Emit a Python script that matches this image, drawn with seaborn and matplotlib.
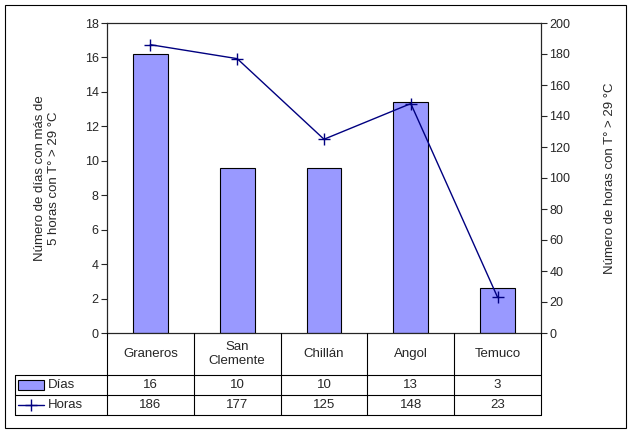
import matplotlib
matplotlib.use("Agg")
import matplotlib.pyplot as plt
import seaborn as sns
import pandas as pd
from matplotlib.lines import Line2D
from matplotlib.patches import Rectangle

ciudades = ["Graneros", "San\nClemente", "Chillán", "Angol", "Temuco"]
dias = [16.2, 9.6, 9.6, 13.4, 2.6]
dias_tabla = ["16", "10", "10", "13", "3"]
horas = [186, 177, 125, 148, 23]

sns.set_style("white")
plt.rcParams["font.family"] = ["Liberation Sans", "DejaVu Sans"]
plt.rcParams["font.size"] = 9

W, H = 631, 433
fig = plt.figure(figsize=(W / 100, H / 100), dpi=100)
L, R, T, B = 107, 541, 23, 333
ax = fig.add_axes([L / W, 1 - B / H, (R - L) / W, (B - T) / H])

df = pd.DataFrame({"c": ciudades, "d": dias})
sns.barplot(data=df, x="c", y="d", color="#9999FF", edgecolor="black",
            linewidth=0.8, width=0.4, saturation=1, ax=ax)
ax.set_ylim(0, 18)
ax.set_yticks(range(0, 19, 2))
ax.set_xlim(-0.5, 4.5)
ax.set_xticks([])
ax.set_xlabel("")
ax.set_ylabel("Número de días con más de\n5 horas con T° > 29 °C", fontsize=9.5, labelpad=18)
ax.tick_params(axis="y", direction="out", length=4, left=True, pad=2)
for s in ax.spines.values():
    s.set_color("black"); s.set_linewidth(0.8)

ax2 = ax.twinx()
ax2.plot(range(5), horas, color="#000080", marker="+", markersize=9, linewidth=1)
ax2.set_ylim(0, 200)
ax2.set_yticks(range(0, 201, 20))
ax2.set_ylabel("Número de horas con T° > 29 °C", fontsize=9.5, labelpad=24)
ax2.tick_params(axis="y", direction="out", length=4, right=True, pad=2)

# data table
def fx(x): return x / W
def fy(y): return 1 - y / H
cw = (R - L) / 5
kw = dict(color="black", linewidth=0.8, transform=fig.transFigure)
for y in [375, 395, 415]:
    fig.add_artist(Line2D([fx(15), fx(R)], [fy(y), fy(y)], **kw))
for k in range(6):
    fig.add_artist(Line2D([fx(L + k * cw)] * 2, [fy(B), fy(415)], **kw))
fig.add_artist(Line2D([fx(15)] * 2, [fy(375), fy(415)], **kw))
for i in range(5):
    cx = fx(L + (i + 0.5) * cw)
    fig.text(cx, fy(354), ciudades[i], ha="center", va="center", fontsize=9.5)
    fig.text(cx, fy(385), dias_tabla[i], ha="center", va="center", fontsize=9.5)
    fig.text(cx, fy(405), str(horas[i]), ha="center", va="center", fontsize=9.5)
fig.add_artist(Rectangle((fx(18), fy(390)), fx(26), 10 / H, facecolor="#9999FF",
                         edgecolor="black", linewidth=0.8, transform=fig.transFigure))
fig.text(fx(48), fy(385), "Días", va="center", fontsize=9.5)
fig.add_artist(Line2D([fx(18), fx(31), fx(44)], [fy(405)] * 3, color="#000080", marker="+",
                      markevery=[1], markersize=9, linewidth=1, transform=fig.transFigure))
fig.text(fx(48), fy(405), "Horas", va="center", fontsize=9.5)

fig.add_artist(Rectangle((fx(5), fy(428)), fx(621), 423 / H, fill=False,
                         edgecolor="black", linewidth=0.8, transform=fig.transFigure))
fig.savefig("out.png", dpi=100)
